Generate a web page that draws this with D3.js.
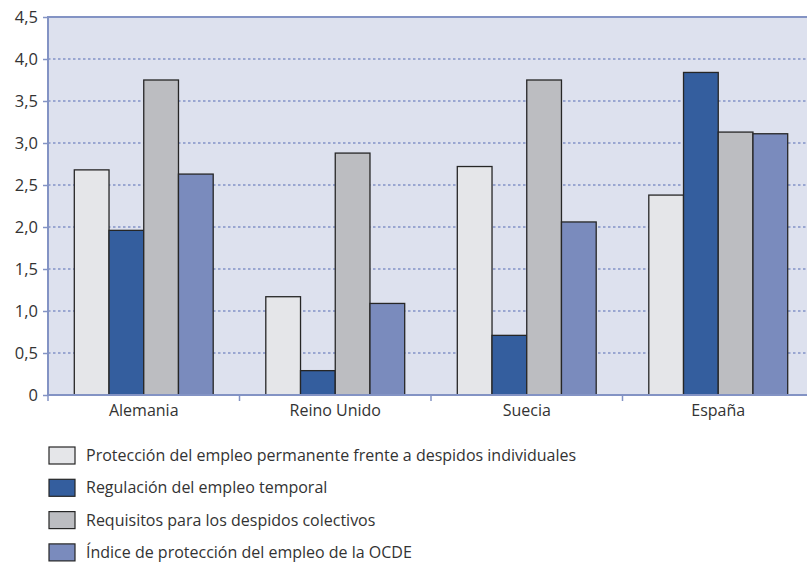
<!DOCTYPE html>
<html><head><meta charset="utf-8">
<script src="https://cdn.jsdelivr.net/npm/d3@7"></script>
<style>body{margin:0;background:#fff}svg{display:block}text{font-family:"Open Sans",sans-serif;fill:#333}</style>
</head><body>
<svg id="c" width="807" height="562"></svg>
<script>
const categories = ["Alemania","Reino Unido","Suecia","España"];
const seriesNames = [
  "Protección del empleo permanente frente a despidos individuales",
  "Regulación del empleo temporal",
  "Requisitos para los despidos colectivos",
  "Índice de protección del empleo de la OCDE"
];
const individuales = [2.68, 1.17, 2.72, 2.38];
const temporal = [1.96, 0.29, 0.71, 3.84];
const colectivos = [3.75, 2.88, 3.75, 3.13];
const ocde = [2.63, 1.09, 2.06, 3.11];
const yTicks = [0,0.5,1,1.5,2,2.5,3,3.5,4,4.5];
const colors = ["#e5e6e9","#345e9e","#bcbdc1","#7a8bbd"];
const series = [individuales, temporal, colectivos, ocde];

const svg = d3.select("#c");
const mLeft = 48, mTop = 17, mBottom = 395, bandW = 191.5;
const x = d3.scaleBand().domain(categories).range([mLeft, mLeft + bandW*4]).paddingInner(0).paddingOuter(0);
const y = d3.scaleLinear().domain([0,4.5]).range([mBottom, mTop]);
const xs = d3.scaleBand().domain(d3.range(4)).range([26.3, bandW-26.3]);

svg.append("rect").attr("x", mLeft).attr("y", mTop).attr("width", 807-mLeft).attr("height", mBottom-mTop).attr("fill", "#dde1ee");
// grid
svg.append("g").selectAll("line").data(yTicks.filter(d=>d>0 && d<4.5)).join("line")
  .attr("x1", mLeft).attr("x2", 807).attr("y1", d=>y(d)).attr("y2", d=>y(d))
  .attr("stroke", "#8393c8").attr("stroke-width", 1.3).attr("stroke-dasharray", "2.5,2.5");
// top border
svg.append("line").attr("x1", mLeft).attr("x2", 807).attr("y1", mTop).attr("y2", mTop).attr("stroke", "#8393c4").attr("stroke-width", 2);

// bars
const g = svg.append("g");
categories.forEach((c, ci) => {
  series.forEach((s, si) => {
    g.append("rect")
      .attr("x", x(c) + xs(si)).attr("width", xs.bandwidth())
      .attr("y", y(s[ci])).attr("height", y(0) - y(s[ci]))
      .attr("fill", colors[si]).attr("stroke", "#262626").attr("stroke-width", 1.3);
  });
});

// y axis
const fmt = d => d === 0 ? "0" : d3.format(".1f")(d).replace(".", ",");
const ya = svg.append("g").attr("transform", `translate(${mLeft},0)`)
  .call(d3.axisLeft(y).tickValues(yTicks).tickFormat(fmt).tickSize(5).tickPadding(5));
ya.select(".domain").remove();
ya.selectAll(".tick line").attr("stroke", "#8393c4").attr("stroke-width", 1.5);
ya.selectAll("text").style("font-size", "16.5px").attr("fill", "#333");
svg.append("line").attr("x1", mLeft).attr("x2", mLeft).attr("y1", mTop-1).attr("y2", mBottom+1).attr("stroke", "#8393c4").attr("stroke-width", 2);

// x axis
const xa = svg.append("g").attr("transform", `translate(0,${mBottom})`)
  .call(d3.axisBottom(x).tickSize(0).tickPadding(10));
xa.select(".domain").remove();
xa.selectAll("text").style("font-size", "16px").attr("fill", "#333");
svg.append("line").attr("x1", mLeft).attr("x2", 807).attr("y1", mBottom).attr("y2", mBottom).attr("stroke", "#8393c4").attr("stroke-width", 2);
svg.append("g").selectAll("line").data(categories).join("line")
  .attr("x1", d=>x(d)).attr("x2", d=>x(d)).attr("y1", mBottom).attr("y2", mBottom+6)
  .attr("stroke", "#8393c4").attr("stroke-width", 1.5);

// legend
const lg = svg.append("g");
seriesNames.forEach((n, i) => {
  const yy = 447 + i*32.3;
  lg.append("rect").attr("x", 49).attr("y", yy).attr("width", 26).attr("height", 17)
    .attr("fill", colors[i]).attr("stroke", "#262626").attr("stroke-width", 1.2);
  lg.append("text").attr("x", 86).attr("y", yy + 8.5).attr("dy", "0.35em").text(n).style("font-size", "16px");
});
</script>
</body></html>
